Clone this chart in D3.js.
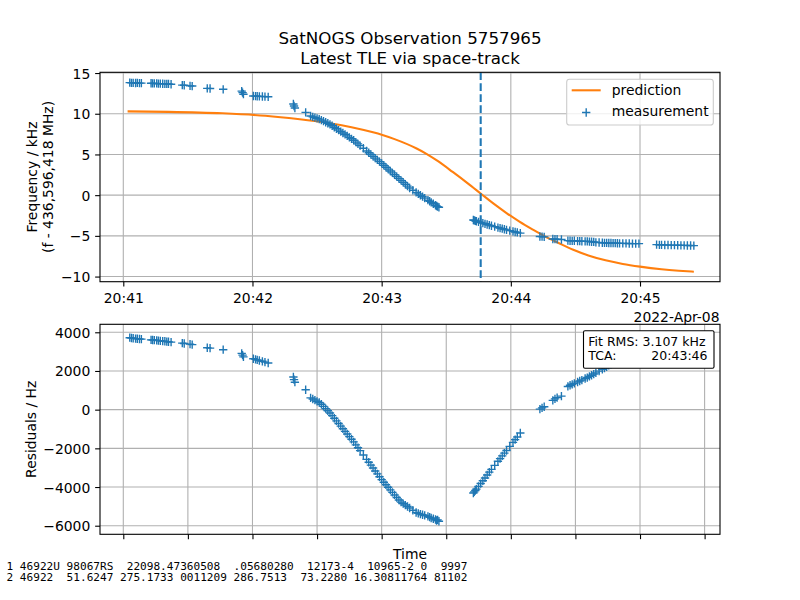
<!DOCTYPE html>
<html>
<head>
<meta charset="utf-8">
<script src="https://cdn.jsdelivr.net/npm/d3@7"></script>
<style>
html,body{margin:0;padding:0;background:#fff;}
svg{display:block;font-family:"DejaVu Sans",sans-serif;}
</style>
</head>
<body>
<svg id="chart" width="800" height="600"></svg>
<script>
// ---------------- DATA ----------------
const titleLines = ["SatNOGS Observation 5757965", "Latest TLE via space-track"];
const dateLabel = "2022-Apr-08";
const tcaSec = 166;            // 20:43:46, seconds after 20:41:00
const fitText = ["Fit RMS: 3.107 kHz", "TCA:", "20:43:46"];
const tleLines = [
  "1 46922U 98067RS  22098.47360508  .05680280  12173-4  10965-2 0  9997",
  "2 46922  51.6247 275.1733 0011209 286.7513  73.2280 16.30811764 81102"
];

// measurement times (seconds after 20:41:00 UTC)
const measSec = [
  3.0,3.8,4.6,5.7,6.5,7.5,8.4,12.9,13.6,14.4,15.5,16.3,17.2,18.3,19.3,20.2,21.0,22.2,
  27.4,28.3,31.0,32.0,39.0,40.3,46.4,55.0,55.4,55.8,
  60.4,61.4,62.2,63.2,64.6,65.8,67.3,79.0,79.3,79.7,84.7,
  87,88,89,90,91,92,93,94,95,96,97,98,99,100,101,102,103,104,105,106,107,108,109,110,111.5,113,
  114,115,116,117,118,119,120,121,122,123,124,125,126,127,128,129,130,131,132,133,134.5,136,
  137,138,139,140,141.5,143,144,145,146,142.3,145.5,146.6,
  162.6,163.0,163.5,164.0,165.0,166.0,167.0,168.0,169.0,170.0,171.0,172.5,174.0,175.0,176.0,177.0,178.0,179.5,181.0,182.0,183.0,184.4,
  193.5,194.5,195.5,199.5,200.5,201.5,203.5,
  206.5,207.5,208.5,209.5,211,212,213,214.5,215.5,216.5,217.5,218.5,
  219.5,221,222.5,223.5,224.5,225.5,226.5,227.5,228.5,229.5,230.5,232,233.5,235,236.5,238,239.5,
  247.7,249,250,251.5,253,254.5,256,257.5,259,260.5,262,263.5,265
];
// measured frequency offset (kHz)
const measKHz = [
  13.82,13.8,13.8,13.78,13.79,13.76,13.76,13.74,13.73,13.72,13.72,13.7,13.7,13.68,13.67,13.66,13.66,13.62,
  13.52,13.5,13.42,13.4,13.12,13.1,13.0,12.78,12.6,12.4,
  12.18,12.16,12.15,12.13,12.12,12.1,12.08,11.2,10.95,10.7,10.17,
  9.72,9.62,9.53,9.43,9.34,9.22,9.09,8.96,8.83,8.70,8.52,8.34,8.16,7.99,7.81,7.63,7.46,7.28,7.10,6.92,6.74,6.52,6.30,6.08,5.76,5.43,
  5.21,4.99,4.77,4.55,4.34,4.12,3.90,3.67,3.43,3.20,2.97,2.74,2.51,2.27,2.04,1.81,1.58,1.34,1.11,0.88,0.60,0.34,
  0.16,-0.01,-0.19,-0.36,-0.62,-0.89,-1.06,-1.24,-1.41,-0.75,-1.33,-1.48,
  -3.05,-3.10,-3.15,-3.20,-3.28,-3.36,-3.44,-3.52,-3.60,-3.68,-3.76,-3.87,-3.98,-4.05,-4.12,-4.19,-4.26,-4.36,-4.45,-4.52,-4.58,-4.66,
  -5.08,-5.1,-5.12,-5.38,-5.4,-5.42,-5.45,
  -5.58,-5.6,-5.62,-5.6,-5.64,-5.64,-5.66,-5.68,-5.68,-5.7,-5.72,-5.74,
  -5.8,-5.82,-5.85,-5.86,-5.87,-5.88,-5.88,-5.9,-5.9,-5.91,-5.92,-5.92,-5.93,-5.94,-5.95,-5.95,-5.96,
  -6.08,-6.1,-6.1,-6.12,-6.12,-6.14,-6.14,-6.15,-6.16,-6.17,-6.18,-6.18,-6.2
];
// residuals (Hz)
const residHz = [
  3720,3705,3690,3675,3665,3655,3645,3610,3600,3595,3585,3570,3560,3545,3535,3520,3510,3490,
  3440,3420,3390,3360,3200,3180,3100,2910,2820,2730,
  2630,2600,2570,2540,2500,2460,2410,1690,1550,1420,1030,
  612,552,491,431,370,279,167,55,-58,-170,-306,-442,-578,-714,-850,-986,-1122,-1258,-1394,-1530,-1668,-1818,-1968,-2118,-2343,-2568,
  -2718,-2868,-3018,-3168,-3318,-3468,-3618,-3750,-3882,-4014,-4146,-4277,-4409,-4541,-4673,-4778,-4855,-4932,-5009,-5086,-5201,-5317,
  -5364,-5399,-5434,-5469,-5521,-5600,-5640,-5680,-5700,-5560,-5730,-5770,
  -4307,-4250,-4180,-4110,-3965,-3820,-3675,-3530,-3375,-3230,-3090,-2880,-2670,-2530,-2390,-2250,-2110,-1900,-1690,-1550,-1410,-1206,
  30,90,150,480,560,620,700,
  1200,1260,1310,1360,1430,1480,1530,1610,1660,1720,1780,1840,
  1900,1990,2080,2150,2220,2290,2340,2390,2440,2490,2540,2600,2660,2710,2760,2800,2840,
  2960,2990,3010,3040,3060,3080,3100,3130,3150,3170,3190,3210,3230
];
// predicted Doppler curve
const predSec = [2,21,46,66,81,96,106,116,120,126,136,141,146,153,160,166,172,178,184,190,196,202,209,216,224,232,240,250,258,265];
const predKHz = [10.29,10.23,10.05,9.75,9.35,8.83,8.35,7.72,7.42,6.88,5.76,5.05,4.2,2.85,1.45,0.2,-1.05,-2.2,-3.25,-4.2,-5.09,-5.85,-6.7,-7.4,-8.0,-8.45,-8.78,-9.1,-9.28,-9.4];

const freqTicks = [-10,-5,0,5,10,15];
const residTicks = [-6000,-4000,-2000,0,2000,4000];

// ---------------- CHART ----------------
const BLUE = "#1f77b4", ORANGE = "#ff7f0e", GRID = "#b0b0b0";
const FS = 13.9;
const svg = d3.select("#chart");
const t0 = Date.UTC(2022, 3, 8, 20, 41, 0);
const toDate = s => new Date(t0 + s * 1000);

const L = 100, R = 720;
const top1 = 72.3, bot1 = 281.7, top2 = 324.3, bot2 = 534.3;

const x = d3.scaleUtc().domain([toDate(-10.82), toDate(277.15)]).range([L, R]);
const yTop = d3.scaleLinear().domain([-10.63, 15.09]).range([bot1, top1]);
const yBot = d3.scaleLinear().domain([-6444, 4413]).range([bot2, top2]);

const minuteTicks = x.ticks(d3.utcMinute.every(1));
const halfMinTicks = x.ticks(d3.utcSecond.every(30));

const meas = measSec.map((s, i) => ({t: toDate(s), f: measKHz[i], r: residHz[i]}));
const pred = predSec.map((s, i) => ({t: toDate(s), f: predKHz[i]}));

const defs = svg.append("defs");
defs.append("clipPath").attr("id", "c1").append("rect").attr("x", L).attr("y", top1).attr("width", R - L).attr("height", bot1 - top1);
defs.append("clipPath").attr("id", "c2").append("rect").attr("x", L).attr("y", top2).attr("width", R - L).attr("height", bot2 - top2);

function panel(yScale, yTicks, xTicks, showXLabels, topY, botY, clipId) {
  const g = svg.append("g");
  g.append("g").selectAll("line").data(xTicks).join("line")
    .attr("x1", d => x(d)).attr("x2", d => x(d)).attr("y1", topY).attr("y2", botY)
    .attr("stroke", GRID).attr("stroke-width", 1.1);
  g.append("g").selectAll("line").data(yTicks).join("line")
    .attr("x1", L).attr("x2", R).attr("y1", d => yScale(d)).attr("y2", d => yScale(d))
    .attr("stroke", GRID).attr("stroke-width", 1.1);
  const xa = d3.axisBottom(x).tickValues(xTicks).tickSize(4.86).tickPadding(6.5)
    .tickFormat(showXLabels ? d3.utcFormat("%H:%M") : () => "");
  const gx = g.append("g").attr("transform", `translate(0,${botY})`).call(xa);
  const ya = d3.axisLeft(yScale).tickValues(yTicks).tickSize(4.86).tickPadding(4.9).tickFormat(d3.format("d"));
  const gy = g.append("g").attr("transform", `translate(${L},0)`).call(ya);
  [gx, gy].forEach(a => {
    a.select(".domain").remove();
    a.selectAll("line").attr("stroke", "#000").attr("stroke-width", 1.1);
    a.selectAll("text").attr("font-size", FS).attr("font-family", '"DejaVu Sans", sans-serif').attr("fill", "#000");
  });
  gy.selectAll("text").attr("dy", "0.36em");
  const data = g.append("g").attr("clip-path", `url(#${clipId})`);
  return {g, data};
}

function plus(sel, pts, yScale, key) {
  sel.selectAll(null).data(pts).join("path")
    .attr("d", "M-4.17,0H4.17M0,-4.17V4.17")
    .attr("transform", d => `translate(${x(d.t)},${yScale(d[key])})`)
    .attr("stroke", BLUE).attr("stroke-width", 1.39).attr("fill", "none");
}

// ---- top panel
const p1 = panel(yTop, freqTicks, minuteTicks, true, top1, bot1, "c1");
p1.data.append("path").datum(pred)
  .attr("d", d3.line().x(d => x(d.t)).y(d => yTop(d.f)).curve(d3.curveMonotoneX))
  .attr("fill", "none").attr("stroke", ORANGE).attr("stroke-width", 2.08);
plus(p1.data, meas, yTop, "f");
p1.data.append("line")
  .attr("x1", x(toDate(tcaSec))).attr("x2", x(toDate(tcaSec))).attr("y1", top1).attr("y2", bot1)
  .attr("stroke", BLUE).attr("stroke-width", 2.08).attr("stroke-dasharray", "7.7,3.3");
p1.g.append("rect").attr("x", L).attr("y", top1).attr("width", R - L).attr("height", bot1 - top1)
  .attr("fill", "none").attr("stroke", "#000").attr("stroke-width", 1.1);

// legend
const lg = p1.g.append("g");
lg.append("rect").attr("x", 566.7).attr("y", 79.3).attr("width", 146.6).attr("height", 45.7).attr("rx", 2.8)
  .attr("fill", "#fff").attr("fill-opacity", 0.8).attr("stroke", "#cccccc").attr("stroke-width", 1.1);
lg.append("line").attr("x1", 571.7).attr("x2", 600.7).attr("y1", 90.3).attr("y2", 90.3)
  .attr("stroke", ORANGE).attr("stroke-width", 2.08);
lg.append("path").attr("d", "M-4.17,0H4.17M0,-4.17V4.17").attr("transform", "translate(586.2,112.5)")
  .attr("stroke", BLUE).attr("stroke-width", 1.39);
lg.append("text").attr("x", 611.7).attr("y", 95.2).attr("font-size", FS).text("prediction");
lg.append("text").attr("x", 611.7).attr("y", 116.3).attr("font-size", FS).text("measurement");

svg.append("text").attr("x", 719.5).attr("y", 321.5).attr("text-anchor", "end").attr("font-size", FS).text(dateLabel);

// ---- bottom panel
const p2 = panel(yBot, residTicks, halfMinTicks, false, top2, bot2, "c2");
plus(p2.data, meas, yBot, "r");
p2.g.append("rect").attr("x", L).attr("y", top2).attr("width", R - L).attr("height", bot2 - top2)
  .attr("fill", "none").attr("stroke", "#000").attr("stroke-width", 1.1);

// fit box
const fb = p2.g.append("g");
fb.append("rect").attr("x", 583.5).attr("y", 330.7).attr("width", 130.5).attr("height", 37.6).attr("rx", 1.5)
  .attr("fill", "#fff").attr("stroke", "#000").attr("stroke-width", 1.1);
fb.append("text").attr("x", 588.3).attr("y", 345.6).attr("font-size", 12.5).text(fitText[0]);
fb.append("text").attr("x", 588.3).attr("y", 360.4).attr("font-size", 12.5).text(fitText[1]);
fb.append("text").attr("x", 707.5).attr("y", 360.4).attr("font-size", 12.5).attr("text-anchor", "end").text(fitText[2]);

// titles & labels
svg.append("text").attr("x", 410).attr("y", 43.5).attr("text-anchor", "middle").attr("font-size", 16.7).text(titleLines[0]);
svg.append("text").attr("x", 410).attr("y", 64.3).attr("text-anchor", "middle").attr("font-size", 16.7).text(titleLines[1]);

svg.append("text").attr("transform", "translate(36.7,177) rotate(-90)").attr("text-anchor", "middle")
  .attr("font-size", FS).text("Frequency / kHz");
svg.append("text").attr("transform", "translate(53.3,177) rotate(-90)").attr("text-anchor", "middle")
  .attr("font-size", FS).text("(f - 436,596,418 MHz)");
svg.append("text").attr("transform", "translate(36.2,429.3) rotate(-90)").attr("text-anchor", "middle")
  .attr("font-size", FS).text("Residuals / Hz");
svg.append("text").attr("x", 410).attr("y", 559.3).attr("text-anchor", "middle").attr("font-size", FS).text("Time");

svg.selectAll(null).data(tleLines).join("text")
  .attr("x", 6.5).attr("y", (d, i) => 570.2 + i * 11.2)
  .attr("font-family", '"DejaVu Sans Mono", monospace').attr("font-size", 11.1)
  .style("white-space", "pre").text(d => d);
</script>
</body>
</html>
